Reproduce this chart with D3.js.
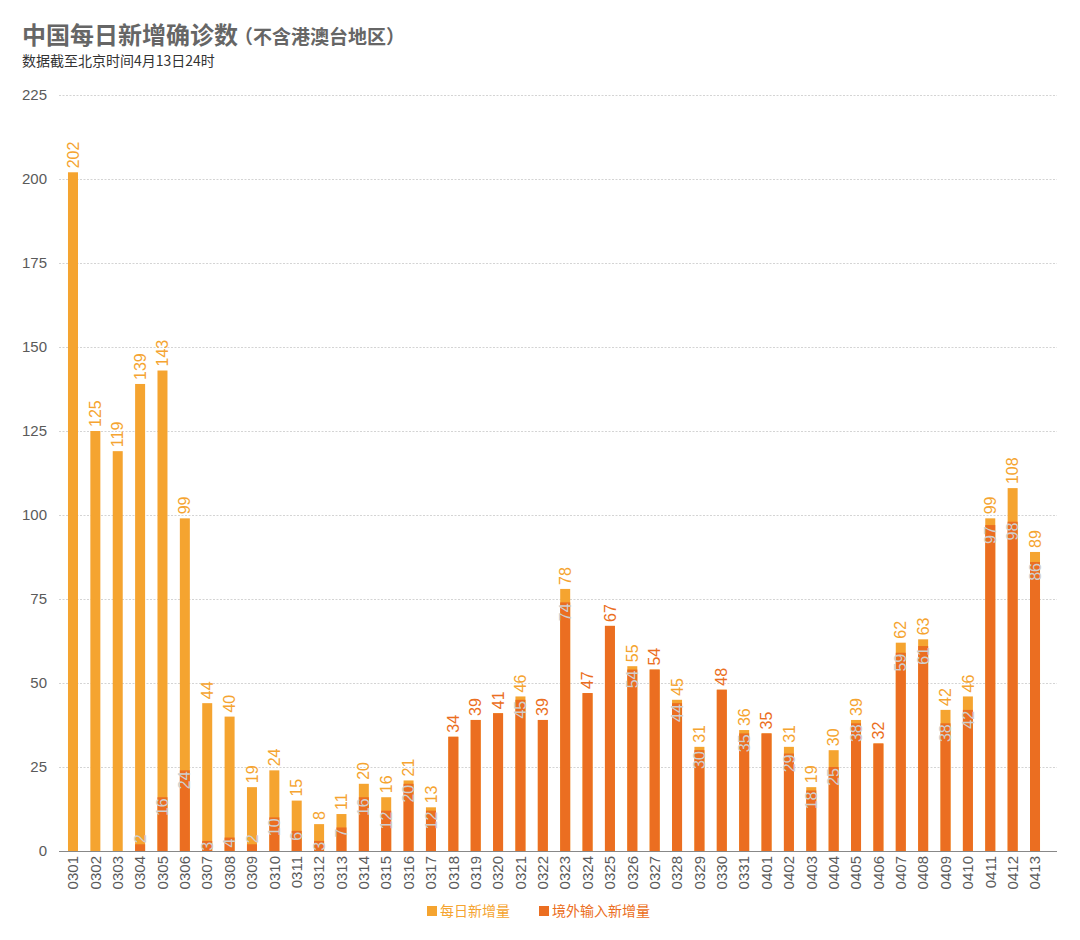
<!DOCTYPE html>
<html><head><meta charset="utf-8">
<script src="https://cdn.jsdelivr.net/npm/d3@7"></script>
<style>
body{margin:0;background:#fff;}
svg{display:block;font-family:"Liberation Sans","Noto Sans CJK SC",Arial,sans-serif;}
</style></head>
<body>
<svg id="c" width="1080" height="940"></svg>
<script>
const dates = ["0301","0302","0303","0304","0305","0306","0307","0308","0309","0310","0311","0312","0313","0314","0315","0316","0317","0318","0319","0320","0321","0322","0323","0324","0325","0326","0327","0328","0329","0330","0331","0401","0402","0403","0404","0405","0406","0407","0408","0409","0410","0411","0412","0413"];
const totalNew = [202,125,119,139,143,99,44,40,19,24,15,8,11,20,16,21,13,34,39,41,46,39,78,47,67,55,54,45,31,48,36,35,31,19,30,39,32,62,63,42,46,99,108,89];
const importedNew = [0,0,0,2,16,24,3,4,2,10,6,3,7,16,12,20,12,34,39,41,45,39,74,47,67,54,54,44,30,48,35,35,29,18,25,38,32,59,61,38,42,97,98,86];
const yTicks = [0,25,50,75,100,125,150,175,200,225];
const seriesNames = ["每日新增量","境外输入新增量"];

const C_TOTAL = "#F5A430", C_IMP = "#EB6E21", C_TXT = "#5a5a5a";
const NUMFONT = "'Liberation Sans',Arial,sans-serif";
const svg = d3.select("#c");
const data = dates.map((d,i)=>({d, t: totalNew[i], m: importedNew[i]}));

const x = d3.scaleBand().domain(dates).range([61.8,1046.2]).paddingInner(0.553).paddingOuter(0.2765);
const y = d3.scaleLinear().domain([0,225]).range([851,95]);

// title
const title = svg.append("text").attr("x",22).attr("y",44).attr("fill","#666").attr("font-weight","bold")
  .attr("font-family","'Noto Sans CJK SC',sans-serif");
title.append("tspan").attr("font-size",24).text("中国每日新增确诊数");
title.append("tspan").attr("font-size",19).text("（不含港澳台地区）").attr("dx",-4);
svg.append("text").attr("x",22).attr("y",66).attr("fill","#333").attr("font-size",14)
  .attr("font-family","'Noto Sans CJK SC',sans-serif").text("数据截至北京时间4月13日24时");

// grid
const grid = svg.append("g");
grid.selectAll("line").data(yTicks.filter(v=>v>0)).join("line")
  .attr("x1",59).attr("x2",1057).attr("y1",v=>Math.round(y(v))+0.5).attr("y2",v=>Math.round(y(v))+0.5)
  .attr("stroke","#d4d4d4").attr("stroke-width",1).attr("stroke-dasharray","2,1.5");

// y axis labels
const yAxis = d3.axisLeft(y).tickValues(yTicks).tickSize(0).tickPadding(0);
const gy = svg.append("g").attr("transform","translate(47,0)").call(yAxis);
gy.select(".domain").remove();
gy.selectAll("text").attr("fill",C_TXT).attr("font-size",15).attr("font-family",NUMFONT);

// bars
const bw = x.bandwidth();
svg.append("g").selectAll("rect").data(data).join("rect")
  .attr("x",d=>x(d.d)).attr("width",bw).attr("y",d=>y(d.t)).attr("height",d=>y(0)-y(d.t)).attr("fill",C_TOTAL);
svg.append("g").selectAll("rect").data(data.filter(d=>d.m>0)).join("rect")
  .attr("x",d=>x(d.d)).attr("width",bw).attr("y",d=>y(d.m)).attr("height",d=>y(0)-y(d.m)).attr("fill",C_IMP);

// x axis
const xAxis = d3.axisBottom(x).tickSize(0).tickPadding(0);
const gx = svg.append("g").attr("transform",`translate(0,${y(0)})`).call(xAxis);
gx.select(".domain").attr("d","M59,0.5H1057").attr("stroke","#888").attr("stroke-width",1);
gx.selectAll("text").attr("fill",C_TXT).attr("font-size",15).attr("font-family",NUMFONT)
  .attr("transform","rotate(-90)").attr("text-anchor","end").attr("x",-5).attr("y",0).attr("dy","0.35em");

// labels
const fs = 16;
const lab = svg.append("g").attr("font-family",NUMFONT).attr("font-size",fs);
data.forEach(d=>{
  const cx = x(d.d)+bw/2;
  const top = y(d.t);
  lab.append("text").attr("transform",`translate(${cx},${top-4}) rotate(-90)`).attr("dy","0.35em")
    .attr("text-anchor","start").attr("fill", d.t===d.m ? C_IMP : C_TOTAL).text(d.t);
  if (d.m>0 && d.m!==d.t){
    const len = String(d.m).length*fs*0.556;
    let yy = y(d.m)+1;
    if (yy+len > y(0)+0.5) yy = y(d.m)-1-len;
    lab.append("text").attr("transform",`translate(${cx},${yy}) rotate(-90)`).attr("dy","0.35em")
      .attr("text-anchor","end").attr("fill","#cfcfcf").text(d.m);
  }
});

// legend
const lg = svg.append("g").attr("font-family","'Noto Sans CJK SC',sans-serif").attr("font-size",14);
[[427,C_TOTAL,seriesNames[0]],[539,C_IMP,seriesNames[1]]].forEach(([lx,c,t])=>{
  lg.append("rect").attr("x",lx).attr("y",906).attr("width",10).attr("height",10).attr("fill",c);
  lg.append("text").attr("x",lx+13).attr("y",916).attr("fill",c).text(t);
});
</script>
</body></html>
